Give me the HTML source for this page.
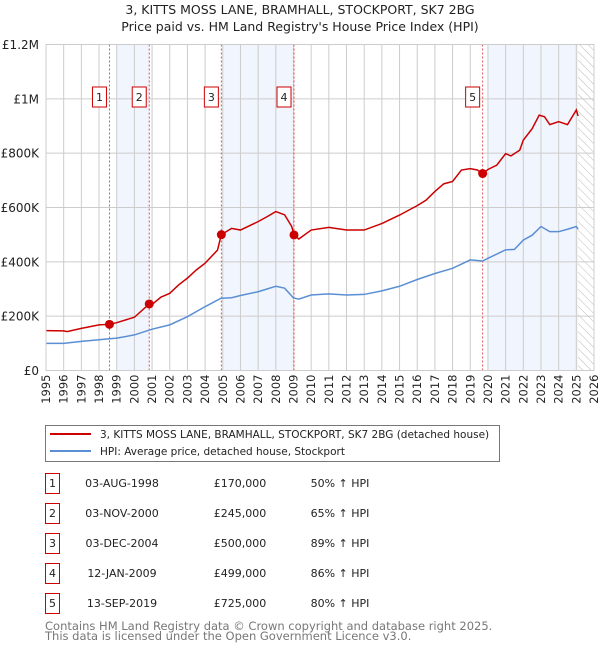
<!DOCTYPE html>
<html><head><meta charset="utf-8"><style>
body{margin:0;background:#fff;font-family:"Liberation Sans","DejaVu Sans",sans-serif;}
svg text{font-family:"DejaVu Sans","Liberation Sans",sans-serif;}
</style></head><body>
<svg id="c" width="600" height="650" xmlns="http://www.w3.org/2000/svg">
<defs><pattern id="hatch" width="6" height="6" patternUnits="userSpaceOnUse" patternTransform="rotate(-45)"><line x1="0" y1="0" x2="0" y2="6" stroke="#bbb" stroke-width="1"/></pattern></defs>
<text x="300" y="14" text-anchor="middle" font-size="12.5" fill="#222">3, KITTS MOSS LANE, BRAMHALL, STOCKPORT, SK7 2BG</text>
<text x="300" y="31" text-anchor="middle" font-size="12.5" fill="#222">Price paid vs. HM Land Registry's House Price Index (HPI)</text>
<g id="plot"></g>
<g>
<rect x="45.5" y="425.5" width="454" height="36" fill="#fff" stroke="#777"/>
<line x1="50" y1="434" x2="91" y2="434" stroke="#cc0000" stroke-width="2"/>
<text x="100" y="438" font-size="10.5" fill="#222">3, KITTS MOSS LANE, BRAMHALL, STOCKPORT, SK7 2BG (detached house)</text>
<line x1="50" y1="451" x2="91" y2="451" stroke="#5b8fd4" stroke-width="2"/>
<text x="100" y="455" font-size="10.5" fill="#222">HPI: Average price, detached house, Stockport</text>
</g>
<g id="table"></g>
<text x="45" y="630" font-size="11.5" fill="#777">Contains HM Land Registry data © Crown copyright and database right 2025.</text>
<text x="45" y="640" font-size="11.5" fill="#777">This data is licensed under the Open Government Licence v3.0.</text>
</svg>
<script>
const hpiYears=[1995,1996,1997,1998,1998.6,1999,2000,2001,2002,2003,2004,2004.9,2005.5,2006,2007,2008,2008.5,2009,2009.3,2010,2011,2012,2013,2014,2015,2016,2017,2018,2019,2019.7,2020,2021,2021.5,2022,2022.5,2023,2023.5,2024,2024.5,2025,2025.1];
const hpiValues=[100,100,107,113,117,119,131,152,168,198,235,266,268,276,290,310,303,267,263,278,282,278,280,293,310,335,357,376,407,403,413,444,446,480,498,530,511,511,520,530,520];
const propYears=[1995,1996,1996.2,1997,1998,1998.59,1999,2000,2000.84,2001,2001.5,2002,2002.5,2003,2003.5,2004,2004.7,2004.92,2005.5,2006,2007,2007.5,2008,2008.5,2008.9,2009.03,2009.3,2010,2011,2012,2013,2014,2015,2016,2016.5,2017,2017.5,2018,2018.5,2019,2019.4,2019.7,2020,2020.5,2021,2021.3,2021.8,2022,2022.5,2022.9,2023.2,2023.5,2024,2024.5,2025,2025.1];
const propValues=[147,146,143,155,168,170,176,196,245,243,270,284,315,340,370,395,443,500,523,517,548,566,585,573,530,499,484,517,527,517,517,541,572,607,627,659,687,696,738,743,738,725,740,756,798,790,811,848,890,940,934,905,916,905,959,937];
const saleLabels=["1","2","3","4","5"];
const saleYears=[1998.59,2000.84,2004.92,2009.03,2019.70];
const saleValues=[170,245,500,499,725];
const saleDates=["03-AUG-1998","03-NOV-2000","03-DEC-2004","12-JAN-2009","13-SEP-2019"];
const salePrices=["£170,000","£245,000","£500,000","£499,000","£725,000"];
const salePcts=["50% ↑ HPI","65% ↑ HPI","89% ↑ HPI","86% ↑ HPI","80% ↑ HPI"];
const bandStarts=[1999.0,2004.97,2020.0];
const bandEnds=[2000.84,2009.03,2025.1];
const yTicks=[0,200,400,600,800,1000,1200];
const yTickLabels=["£0","£200K","£400K","£600K","£800K","£1M","£1.2M"];
const xTicks=[];for(let y=1995;y<=2026;y++)xTicks.push(y);

const L=46,R=594,T=44.5,B=370.5,Y0=1995,Y1=2026,VMAX=1200;
const xs=y=>L+(y-Y0)/(Y1-Y0)*(R-L);
const ys=v=>B-v/VMAX*(B-T);
const NS="http://www.w3.org/2000/svg";
const plot=document.getElementById('plot');
function mk(tag,attrs,parent){const e=document.createElementNS(NS,tag);for(const k in attrs)e.setAttribute(k,attrs[k]);(parent||plot).appendChild(e);return e;}

bandStarts.forEach((s,i)=>{const r=mk('rect',{x:xs(s),y:T,width:xs(bandEnds[i])-xs(s),height:B-T,fill:'#eef3fc',opacity:0.8});

});
const h=mk('rect',{x:xs(2025.1),y:T,width:R-xs(2025.1),height:B-T,fill:'url(#hatch)'});


xTicks.forEach(y=>{const l=mk('line',{x1:xs(y),x2:xs(y),y1:T,y2:B,stroke:'#ccc','stroke-width':1});


const t=mk('text',{x:xs(y)+4,y:B+4,'font-size':11.5,fill:'#222',transform:`rotate(-90 ${xs(y)+4} ${B+4})`,'text-anchor':'end'});t.textContent=y;

});
yTicks.forEach((v,i)=>{const l=mk('line',{x1:L,x2:R,y1:ys(v),y2:ys(v),stroke:'#ccc','stroke-width':1});


const t=mk('text',{x:L-7,y:ys(v)+4.5,'font-size':12,fill:'#222','text-anchor':'end'});t.textContent=yTickLabels[i];

});
saleYears.forEach((y,i)=>{const l=mk('line',{x1:xs(y),x2:xs(y),y1:T,y2:B,stroke:'#e05050','stroke-width':1,'stroke-dasharray':'2,2'});

});
const hp=mk('polyline',{points:hpiYears.map((y,i)=>xs(y)+','+ys(hpiValues[i])).join(' '),fill:'none',stroke:'#5b8fd4','stroke-width':1.5});


const pp=mk('polyline',{points:propYears.map((y,i)=>xs(y)+','+ys(propValues[i])).join(' '),fill:'none',stroke:'#cc0000','stroke-width':1.5});


saleYears.forEach((y,i)=>{const c=mk('circle',{cx:xs(y),cy:ys(saleValues[i]),r:4.5,fill:'#cc0000'});


const bx=xs(y)-10;
const r=mk('rect',{x:bx-7,y:87,width:14,height:20,fill:'#fff',stroke:'#cc0000','stroke-width':1});


const t=mk('text',{x:bx,y:101,'font-size':11,'text-anchor':'middle',fill:'#222'});t.textContent=saleLabels[i];

});
mk('rect',{x:L,y:T,width:R-L,height:B-T,fill:'none',stroke:'#ccc'});

const tb=document.getElementById('table');
saleLabels.forEach((s,i)=>{const cy=483+i*30;
const r=mk('rect',{x:45.5,y:cy-9.5,width:14,height:20,fill:'#fff',stroke:'#cc0000'},tb);


const cells=[[52.5,s,'middle'],[122,saleDates[i],'middle'],[240,salePrices[i],'middle'],[340,salePcts[i],'middle']];
cells.forEach(c=>{const t=mk('text',{x:c[0],y:cy+4,'font-size':11,fill:'#222','text-anchor':c[2]},tb);t.textContent=c[1];

});});
</script>
</body></html>
